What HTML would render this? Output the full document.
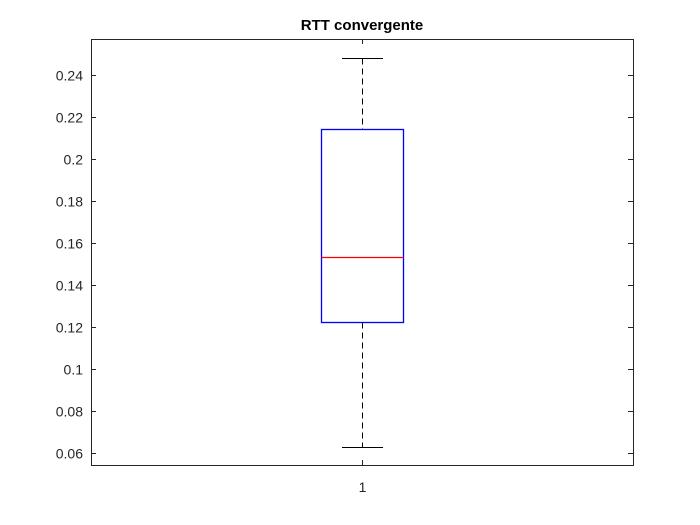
<!DOCTYPE html>
<html><head><meta charset="utf-8"><style>
body{margin:0;background:#fff;}
svg{display:block;font-family:"Liberation Sans",Arial,sans-serif;}
.blue{stroke:rgb(0,0,255);}
.red{stroke:rgb(255,0,0);}
</style></head><body>
<svg id="chart" width="700" height="525"></svg>
<script>
const categories=["1"];
const whiskerLow=[0.0629];
const q1=[0.1224];
const median=[0.1533];
const q3=[0.2143];
const whiskerHigh=[0.2481];
const yTicks=[0.06,0.08,0.1,0.12,0.14,0.16,0.18,0.2,0.22,0.24];
const yTickLabels=["0.06","0.08","0.1","0.12","0.14","0.16","0.18","0.2","0.22","0.24"];
const yMin=0.0543,yMax=0.2571;
const L=91,R=633,T=39,B=465;
const svg=document.getElementById('chart');
const NS='http://www.w3.org/2000/svg';
function y(v){return B-(v-yMin)/(yMax-yMin)*(B-T);}
function sy(v){return Math.round(y(v))+0.5;}
function x(i){return L+(i+0.5)*(R-L)/categories.length;}
function mk(t,a){const e=document.createElementNS(NS,t);for(const k in a)e.setAttribute(k,a[k]);svg.appendChild(e);return e;}
let e=mk('rect',{x:L+0.5,y:T+0.5,width:R-L,height:B-T,fill:'#fff',stroke:'#262626','stroke-width':1});


yTicks.forEach((v,i)=>{
 const yy=sy(v);
 let t=mk('line',{x1:L,x2:L+5,y1:yy,y2:yy,stroke:'#262626'});
 
 
 let t2=mk('line',{x1:R-5,x2:R,y1:yy,y2:yy,stroke:'#262626'});
 
 
 let l=mk('text',{x:L-8,y:yy+5,'text-anchor':'end','font-size':14,fill:'#262626'});
 l.textContent=yTickLabels[i];
 
 
});
categories.forEach((c,i)=>{
 const cx=Math.round(x(i))+0.5,hw=41,cw=20.5;
 let t=mk('line',{x1:cx,x2:cx,y1:B,y2:B-5,stroke:'#262626'});
 
 
 let t3=mk('line',{x1:cx,x2:cx,y1:T,y2:T+5,stroke:'#262626'});
 
 
 let l=mk('text',{x:cx,y:B+27,'text-anchor':'middle','font-size':14,fill:'#262626'});
 l.textContent=c;
 
 
 let w1=mk('line',{x1:cx,x2:cx,y1:sy(whiskerHigh[i]),y2:sy(q3[i]),stroke:'#000','stroke-dasharray':'6,4'});
 
 
 let w2=mk('line',{x1:cx,x2:cx,y1:sy(q1[i]),y2:sy(whiskerLow[i]),stroke:'#000','stroke-dasharray':'6,4'});
 
 
 let c1=mk('line',{x1:cx-cw,x2:cx+cw,y1:sy(whiskerHigh[i]),y2:sy(whiskerHigh[i]),stroke:'#000'});
 
 
 let c2=mk('line',{x1:cx-cw,x2:cx+cw,y1:sy(whiskerLow[i]),y2:sy(whiskerLow[i]),stroke:'#000'});
 
 
 let b=mk('rect',{x:cx-hw,y:sy(q3[i]),width:2*hw,height:sy(q1[i])-sy(q3[i]),fill:'none','class':'blue','stroke-width':1.3});
 
 
 let m=mk('line',{x1:cx-hw,x2:cx+hw,y1:sy(median[i]),y2:sy(median[i]),'class':'red','stroke-width':1.3});
 
 
});
let ti=mk('text',{x:(L+R)/2,y:30,'text-anchor':'middle','font-size':15,'font-weight':'bold',fill:'#000'});
ti.textContent='RTT convergente';


</script>
</body></html>
